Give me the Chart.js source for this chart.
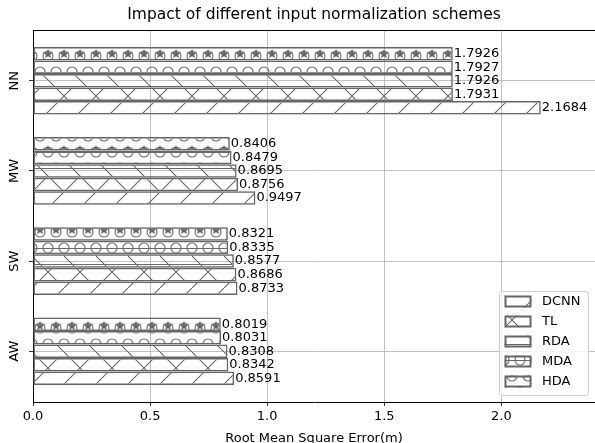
<!DOCTYPE html>
<html lang="en">
<head>
<meta charset="UTF-8">
<title>Impact of different input normalization schemes</title>
<script src="https://cdn.jsdelivr.net/npm/chart.js"></script>
<style>
  html, body { margin: 0; padding: 0; background: #fff; }
  #wrap { width: 595px; height: 443px; }
</style>
</head>
<body>
<div id="wrap"><canvas id="rmseChart"></canvas></div>
<script>
var categories = ['AW', 'SW', 'MW', 'NN'];
var seriesNames = ['DCNN', 'TL', 'RDA', 'MDA', 'HDA'];
var dcnn = [0.8591, 0.8733, 0.9497, 2.1684];
var tl   = [0.8342, 0.8686, 0.8756, 1.7931];
var rda  = [0.8308, 0.8577, 0.8695, 1.7926];
var mda  = [0.8031, 0.8335, 0.8479, 1.7927];
var hda  = [0.8019, 0.8321, 0.8406, 1.7926];
var xTicks = [0, 0.5, 1.0, 1.5, 2.0];
var hatches = ['/', '/\\', '\\-', '-o', 'o*'];

var FONT = '"DejaVu Sans", sans-serif';
var EDGE = '#666666';

function drawStar(g, cx, cy, r) {
    g.beginPath();
    for (var k = 0; k < 10; k++) {
        var rr = (k % 2 === 0) ? r : r * 0.45;
        var a = -Math.PI / 2 + k * Math.PI / 5;
        var px = cx + rr * Math.cos(a), py = cy + rr * Math.sin(a);
        if (k === 0) g.moveTo(px, py); else g.lineTo(px, py);
    }
    g.closePath();
    g.fill();
}

// matplotlib-like hatch tile, repeated in canvas coordinates
function makeHatch(code) {
    var c = document.createElement('canvas');
    c.width = 32; c.height = 32;
    var g = c.getContext('2d');
    g.strokeStyle = EDGE; g.fillStyle = EDGE; g.lineWidth = 1.1;
    if (code.indexOf('/') >= 0) {
        g.beginPath(); g.moveTo(-2, 34); g.lineTo(34, -2); g.stroke();
    }
    if (code.indexOf('\\') >= 0) {
        g.beginPath(); g.moveTo(-2, -2); g.lineTo(34, 34); g.stroke();
    }
    if (code.indexOf('-') >= 0) {
        g.beginPath();
        g.moveTo(0, 8.5); g.lineTo(32, 8.5);
        g.moveTo(0, 24.5); g.lineTo(32, 24.5);
        g.stroke();
    }
    var spots = [[8, 8], [24, 8], [0, 24], [16, 24], [32, 24]];
    if (code.indexOf('o') >= 0) {
        spots.forEach(function (p) {
            g.beginPath(); g.arc(p[0], p[1], 5, 0, 2 * Math.PI); g.stroke();
        });
    }
    if (code.indexOf('*') >= 0) {
        spots.forEach(function (p) { drawStar(g, p[0], p[1] - 2, 5); });
    }
    return g.createPattern(c, 'repeat');
}

var seriesValues = [dcnn, tl, rda, mda, hda];
var patterns = hatches.map(makeHatch);

// vertical index axis puts the first dataset on top, so feed them HDA -> DCNN
var datasets = seriesNames.map(function (name, i) {
    return {
        label: name,
        data: seriesValues[i].map(function (v, j) { return { x: v, y: j }; }),
        backgroundColor: patterns[i],
        borderColor: EDGE,
        borderWidth: 1.5,
        borderSkipped: false,
        categoryPercentage: 0.75,
        barPercentage: 1.0
    };
}).reverse();

var titlePlugin = {
    id: 'plotTitle',
    afterDraw: function (chart) {
        var ca = chart.chartArea, ctx = chart.ctx;
        ctx.save();
        ctx.font = '15.5px ' + FONT;
        ctx.fillStyle = '#000';
        ctx.textAlign = 'center';
        ctx.textBaseline = 'middle';
        ctx.fillText('Impact of different input normalization schemes', (ca.left + ca.right) / 2, 15);
        // top spine
        ctx.strokeStyle = '#000';
        ctx.lineWidth = 1;
        ctx.beginPath();
        ctx.moveTo(ca.left, ca.top + 0.5);
        ctx.lineTo(ca.right, ca.top + 0.5);
        ctx.stroke();
        ctx.restore();
    }
};

var valueLabels = {
    id: 'valueLabels',
    afterDatasetsDraw: function (chart) {
        var ctx = chart.ctx;
        ctx.save();
        ctx.font = '13px ' + FONT;
        ctx.fillStyle = '#000';
        ctx.textAlign = 'left';
        ctx.textBaseline = 'middle';
        chart.data.datasets.forEach(function (ds, i) {
            chart.getDatasetMeta(i).data.forEach(function (bar, j) {
                ctx.fillText(ds.data[j].x.toFixed(4), bar.x + 1, bar.y);
            });
        });
        ctx.restore();
    }
};

var boxLegend = {
    id: 'boxLegend',
    afterDraw: function (chart) {
        var ca = chart.chartArea, ctx = chart.ctx;
        var right = ca.right - 6.5, bottom = ca.bottom - 6.5;
        var w = 89, h = 104;
        var left = right - w, top = bottom - h;
        ctx.save();
        ctx.beginPath();
        ctx.roundRect(left, top, w, h, 3);
        ctx.fillStyle = 'rgba(255,255,255,0.8)';
        ctx.fill();
        ctx.strokeStyle = '#cccccc';
        ctx.lineWidth = 1;
        ctx.stroke();
        ctx.font = '13px ' + FONT;
        ctx.textAlign = 'left';
        ctx.textBaseline = 'middle';
        seriesNames.forEach(function (name, i) {
            var py = top + 4 + i * 20;
            ctx.fillStyle = patterns[i];
            ctx.fillRect(left + 5, py, 27, 12);
            ctx.strokeStyle = EDGE;
            ctx.lineWidth = 2;
            ctx.strokeRect(left + 6, py + 1, 25, 10);
            ctx.fillStyle = '#000';
            ctx.fillText(name, left + 42.5, py + 6.5);
        });
        ctx.restore();
    }
};

new Chart(document.getElementById('rmseChart'), {
    type: 'bar',
    data: { datasets: datasets },
    options: {
        indexAxis: 'y',
        responsive: true,
        maintainAspectRatio: false,
        animation: false,
        layout: { padding: { top: 30, right: -3, left: 0, bottom: 0 } },
        plugins: {
            legend: { display: false },
            title: { display: false },
            tooltip: { enabled: false }
        },
        scales: {
            x: {
                type: 'linear',
                position: 'bottom',
                min: 0,
                max: 2.4,
                afterBuildTicks: function (s) { s.ticks = xTicks.map(function (v) { return { value: v }; }); },
                ticks: {
                    font: { family: FONT, size: 13 },
                    color: '#000',
                    padding: 3,
                    maxRotation: 0,
                    callback: function (v) { return Number(v).toFixed(1); }
                },
                grid: { color: '#b0b0b0', lineWidth: 0.8, tickLength: 4, tickColor: '#000', drawTicks: true },
                border: { color: '#000', width: 1 },
                title: {
                    display: true,
                    text: 'Root Mean Square Error(m)',
                    font: { family: FONT, size: 13 },
                    color: '#000',
                    padding: { top: 0, bottom: -3 }
                },
                afterFit: function (s) { s.height = 41; }
            },
            y: {
                type: 'linear',
                position: 'left',
                offset: false,
                min: -0.5625,
                max: 3.5625,
                afterBuildTicks: function (s) { s.ticks = categories.map(function (c, i) { return { value: i }; }); },
                ticks: {
                    font: { family: FONT, size: 13 },
                    color: '#000',
                    padding: 2.5,
                    crossAlign: 'center',
                    minRotation: 90,
                    maxRotation: 90,
                    callback: function (v) { return categories[v]; }
                },
                grid: { offset: false, color: '#b0b0b0', lineWidth: 0.8, tickLength: 4, tickColor: '#000', drawTicks: true },
                border: { color: '#000', width: 1 },
                afterFit: function (s) { s.width = 33; }
            }
        }
    },
    plugins: [valueLabels, titlePlugin, boxLegend]
});
</script>
</body>
</html>
